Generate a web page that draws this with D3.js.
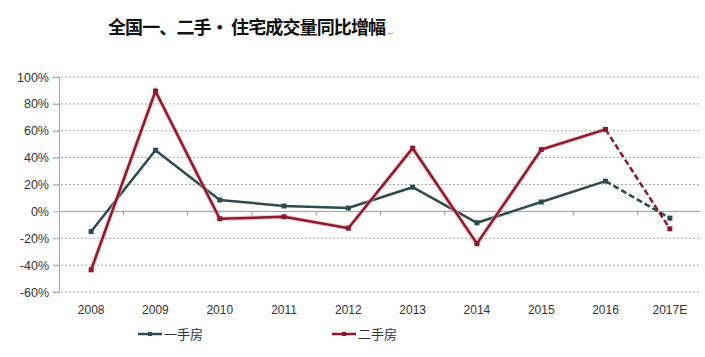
<!DOCTYPE html>
<html><head><meta charset="utf-8">
<script src="https://cdn.jsdelivr.net/npm/d3@7/dist/d3.min.js"></script>
<style>body{margin:0;background:#fff;}svg{display:block;}</style>
</head><body><svg id="c" width="705" height="357"></svg>
<script>
const categories = ["2008","2009","2010","2011","2012","2013","2014","2015","2016","2017E"];
const newHome = [-15, 45.5, 8.5, 4, 2.5, 18, -8.5, 7, 22.5, -5];
const resale = [-43.5, 89.5, -5.5, -4, -12.5, 47, -24, 46, 61, -13];
const yTicks = [100, 80, 60, 40, 20, 0, -20, -40, -60];
const seriesNames = ["一手房", "二手房"];
const title = "全国一、二手· 住宅成交量同比增幅";

const svg = d3.select("#c");
const x = d3.scaleBand().domain(categories).range([59, 702]);
const y = d3.scaleLinear().domain([-60, 100]).range([292, 77]);

// title
svg.append("text").attr("x", 108).attr("y", 34)
  .attr("font-family", "Noto Sans CJK SC").attr("font-weight", "bold").attr("font-size", 18)
  .attr("fill", "#111").attr("textLength", 278).attr("lengthAdjust", "spacing").text(title);
svg.append("text").attr("x", 388).attr("y", 36).attr("font-family", "DejaVu Sans").attr("font-size", 7)
  .attr("fill", "#999").text("↵");

// gridlines
svg.append("g").selectAll("line").data(yTicks.filter(d => d !== 0)).join("line")
  .attr("x1", 53).attr("x2", 700).attr("y1", d => y(d)).attr("y2", d => y(d))
  .attr("stroke", "#aaa").attr("stroke-width", 1).attr("stroke-dasharray", "2,2");

// y axis
const yAxis = d3.axisLeft(y).tickValues(yTicks).tickFormat(d => d + "%").tickSize(6);
const ga = svg.append("g").attr("transform", "translate(59,0)").call(yAxis);
ga.select(".domain").attr("stroke", "#aaa");
ga.selectAll(".tick line").attr("stroke", "#aaa");
ga.selectAll(".tick text").attr("font-family", "Liberation Sans, Arial").attr("font-size", 12.5)
  .attr("fill", "#333").attr("x", -10);

// zero line and x ticks
svg.append("line").attr("x1", 59).attr("x2", 700).attr("y1", y(0)).attr("y2", y(0))
  .attr("stroke", "#999").attr("stroke-width", 1);
svg.append("g").selectAll("line").data(categories.slice(1)).join("line")
  .attr("x1", d => x(d)).attr("x2", d => x(d)).attr("y1", y(0)).attr("y2", y(0) + 4)
  .attr("stroke", "#999");

// x labels
svg.append("g").selectAll("text").data(categories).join("text")
  .attr("x", d => x(d) + x.bandwidth() / 2).attr("y", 314).attr("text-anchor", "middle")
  .attr("font-family", "Liberation Sans, Arial").attr("font-size", 12).attr("fill", "#333")
  .text(d => d);

const cx = d => x(d) + x.bandwidth() / 2;
const n = categories.length;
function drawSeries(vals, color, halo) {
  const pts = vals.map((v, i) => [cx(categories[i]), y(v)]);
  const solid = d3.line()(pts.slice(0, n - 1));
  const dashed = d3.line()(pts.slice(n - 2));
  if (halo) {
    svg.append("path").attr("d", solid).attr("fill", "none").attr("stroke", halo)
      .attr("stroke-width", 4.5).attr("stroke-linejoin", "miter").attr("opacity", 0.6);
  }
  svg.append("path").attr("d", solid).attr("fill", "none").attr("stroke", color)
    .attr("stroke-width", 2.5).attr("stroke-linejoin", "miter");
  svg.append("path").attr("d", dashed).attr("fill", "none").attr("stroke", color)
    .attr("stroke-width", 2.5).attr("stroke-dasharray", "6,3");
  svg.append("g").selectAll("rect").data(pts).join("rect")
    .attr("x", d => d[0] - 2.5).attr("y", d => d[1] - 2.5).attr("width", 5).attr("height", 5)
    .attr("fill", color);
}
drawSeries(newHome, "#2f4b50", null);
drawSeries(resale, "#8b1a2e", "#f3a0ad");

// legend
const legend = [
  {name: seriesNames[0], color: "#2f4b50", x0: 138},
  {name: seriesNames[1], color: "#8b1a2e", x0: 332}
];
legend.forEach(l => {
  svg.append("line").attr("x1", l.x0).attr("x2", l.x0 + 24).attr("y1", 334).attr("y2", 334)
    .attr("stroke", l.color).attr("stroke-width", 2.5);
  svg.append("rect").attr("x", l.x0 + 10).attr("y", 332).attr("width", 4).attr("height", 4).attr("fill", l.color);
  svg.append("text").attr("x", l.x0 + 26).attr("y", 339).attr("font-family", "Noto Sans CJK SC")
    .attr("font-size", 13).attr("fill", "#333").text(l.name);
});
</script></body></html>
